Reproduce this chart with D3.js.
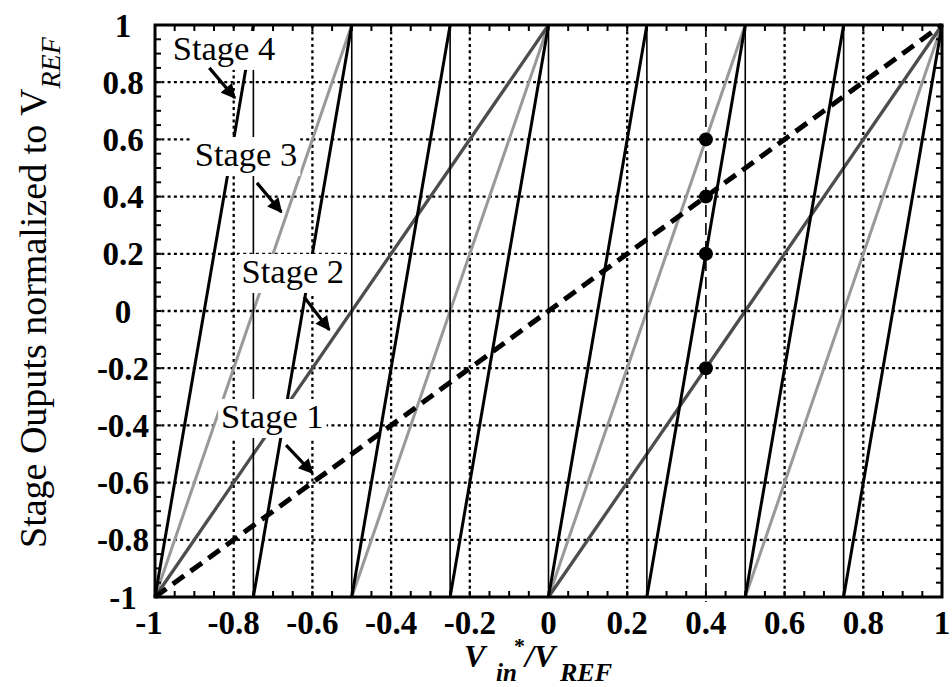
<!DOCTYPE html>
<html>
<head>
<meta charset="utf-8">
<script src="https://cdn.jsdelivr.net/npm/d3@7"></script>
<style>
  html, body { margin: 0; padding: 0; background: #fff; }
  svg { display: block; }
</style>
</head>
<body>
<script>
// ---------- data ----------
const xTickValues = [-1, -0.8, -0.6, -0.4, -0.2, 0, 0.2, 0.4, 0.6, 0.8, 1];
const xTickLabels = ["-1", "-0.8", "-0.6", "-0.4", "-0.2", "0", "0.2", "0.4", "0.6", "0.8", "1"];
const yTickValues = [1, 0.8, 0.6, 0.4, 0.2, 0, -0.2, -0.4, -0.6, -0.8, -1];
const yTickLabels = ["1", "0.8", "0.6", "0.4", "0.2", "0", "-0.2", "-0.4", "-0.6", "-0.8", "-1"];
const xGrid = [-0.8, -0.6, -0.4, -0.2, 0.2, 0.6, 0.8];
const yGrid = [-0.8, -0.6, -0.4, -0.2, 0, 0.2, 0.4, 0.6, 0.8];

// Stage 1 residue (dashed)
const stage1 = [[-1, -1], [0, 0], [1, 1]];
// Stage 2 residue segments (dark gray)
const stage2 = [
  [[-1, -1], [0, 1]],
  [[0, -1], [1, 1]]
];
// Stage 3 residue segments (light gray)
const stage3 = [
  [[-1, -1], [-0.5, 1]],
  [[-0.5, -1], [0, 1]],
  [[0, -1], [0.5, 1]],
  [[0.5, -1], [1, 1]]
];
// Stage 4 residue segments (black)
const stage4 = [
  [[-1, -1], [-0.75, 1]],
  [[-0.75, -1], [-0.5, 1]],
  [[-0.5, -1], [-0.25, 1]],
  [[-0.25, -1], [0, 1]],
  [[0, -1], [0.25, 1]],
  [[0.25, -1], [0.5, 1]],
  [[0.5, -1], [0.75, 1]],
  [[0.75, -1], [1, 1]]
];
// Vertical transitions
const jumps = [-0.75, -0.5, -0.25, 0, 0.25, 0.5, 0.75];
// Example input marker
const markerX = 0.4;
const markerY = [0.6, 0.4, 0.2, -0.2];

// Stage labels: text, anchor x,y (data), arrow start and tip (data)
const stageLabels = [
  { text: "Stage 4", x: -0.955, y: 0.878, from: [-0.862, 0.85], to: [-0.797, 0.745] },
  { text: "Stage 3", x: -0.899, y: 0.507, from: [-0.741, 0.448], to: [-0.679, 0.346] },
  { text: "Stage 2", x: -0.780, y: 0.098, from: [-0.621, 0.049], to: [-0.557, -0.066] },
  { text: "Stage 1", x: -0.832, y: -0.409, from: [-0.667, -0.469], to: [-0.600, -0.566] }
];

// ---------- layout ----------
const W = 952, H = 687;
const L = 155, R = 942, T = 25, B = 597;

const svg = d3.select("body").append("svg")
  .attr("width", W).attr("height", H)
  .attr("viewBox", `0 0 ${W} ${H}`);

const x = d3.scaleLinear().domain([-1, 1]).range([L, R]);
const y = d3.scaleLinear().domain([-1, 1]).range([B, T]);

const serif = "'Liberation Serif', 'Times New Roman', Times, serif";

// defs: arrowhead
const defs = svg.append("defs");
defs.append("marker")
  .attr("id", "ah")
  .attr("viewBox", "0 0 10 10")
  .attr("refX", 9).attr("refY", 5)
  .attr("markerWidth", 5.2).attr("markerHeight", 4.6)
  .attr("markerUnits", "strokeWidth")
  .attr("orient", "auto")
  .append("path").attr("d", "M0,0 L10,5 L0,10 z").attr("fill", "#000");

// ---------- grid ----------
const grid = svg.append("g");
grid.selectAll("line.gx").data(xGrid).enter().append("line")
  .attr("x1", d => x(d)).attr("x2", d => x(d))
  .attr("y1", T).attr("y2", B)
  .attr("stroke", "#000").attr("stroke-width", 2.3)
  .attr("stroke-dasharray", "3,3.3");
grid.selectAll("line.gy").data(yGrid).enter().append("line")
  .attr("y1", d => y(d)).attr("y2", d => y(d))
  .attr("x1", L).attr("x2", R)
  .attr("stroke", "#000").attr("stroke-width", 2.3)
  .attr("stroke-dasharray", "3,3.3");

// marker dashed vertical
svg.append("line")
  .attr("x1", x(markerX)).attr("x2", x(markerX))
  .attr("y1", T).attr("y2", B + 5)
  .attr("stroke", "#000").attr("stroke-width", 1.6)
  .attr("stroke-dasharray", "12,6");

// ---------- curves ----------
const line = d3.line().x(d => x(d[0])).y(d => y(d[1]));

svg.append("g").selectAll("path").data(stage3).enter().append("path")
  .attr("d", line).attr("fill", "none")
  .attr("stroke", "#999").attr("stroke-width", 3);

svg.append("g").selectAll("path").data(stage2).enter().append("path")
  .attr("d", line).attr("fill", "none")
  .attr("stroke", "#4d4d4d").attr("stroke-width", 3.3);

svg.append("g").selectAll("line").data(jumps).enter().append("line")
  .attr("x1", d => x(d)).attr("x2", d => x(d))
  .attr("y1", y(-1)).attr("y2", y(1))
  .attr("stroke", "#000").attr("stroke-width", 1.6);

svg.append("g").selectAll("path").data(stage4).enter().append("path")
  .attr("d", line).attr("fill", "none")
  .attr("stroke", "#000").attr("stroke-width", 3);

svg.append("path").datum(stage1)
  .attr("d", line).attr("fill", "none")
  .attr("stroke", "#000").attr("stroke-width", 5)
  .attr("stroke-dasharray", "14,8");

// dots
svg.append("g").selectAll("circle").data(markerY).enter().append("circle")
  .attr("cx", x(markerX)).attr("cy", d => y(d)).attr("r", 7)
  .attr("fill", "#000");

// ---------- stage labels ----------
const lab = svg.append("g");
stageLabels.forEach(s => {
  const g = lab.append("g");
  const rect = g.append("rect").attr("fill", "#fff");
  const t = g.append("text")
    .attr("x", x(s.x)).attr("y", y(s.y))
    .attr("font-family", serif).attr("font-size", 34.5)
    .attr("fill", "#000")
    .text(s.text);
  const bb = t.node().getBBox();
  rect.attr("x", bb.x - 3).attr("y", bb.y + 2)
    .attr("width", bb.width + 6).attr("height", bb.height + 1);
  g.append("line")
    .attr("x1", x(s.from[0])).attr("y1", y(s.from[1]))
    .attr("x2", x(s.to[0])).attr("y2", y(s.to[1]))
    .attr("stroke", "#000").attr("stroke-width", 3.2)
    .attr("marker-end", "url(#ah)");
});

// ---------- axes / frame ----------
const minor = d3.range(-1, 1.0001, 0.05);
const ax = svg.append("g");
ax.selectAll("line.tb").data(minor).enter().append("line")
  .attr("x1", d => x(d)).attr("x2", d => x(d))
  .attr("y1", B).attr("y2", B - 6)
  .attr("stroke", "#000").attr("stroke-width", 2);
ax.selectAll("line.tt").data(minor).enter().append("line")
  .attr("x1", d => x(d)).attr("x2", d => x(d))
  .attr("y1", T).attr("y2", T + 6)
  .attr("stroke", "#000").attr("stroke-width", 2);
ax.selectAll("line.tl").data(minor).enter().append("line")
  .attr("y1", d => y(d)).attr("y2", d => y(d))
  .attr("x1", L).attr("x2", L + 6)
  .attr("stroke", "#000").attr("stroke-width", 2);
ax.selectAll("line.tr").data(minor).enter().append("line")
  .attr("y1", d => y(d)).attr("y2", d => y(d))
  .attr("x1", R).attr("x2", R - 6)
  .attr("stroke", "#000").attr("stroke-width", 2);

svg.append("rect")
  .attr("x", L).attr("y", T).attr("width", R - L).attr("height", B - T)
  .attr("fill", "none").attr("stroke", "#000").attr("stroke-width", 3);

// tick labels
svg.append("g").selectAll("text").data(xTickValues).enter().append("text")
  .attr("x", d => x(d)).attr("y", 634)
  .attr("dx", (d, i) => i === 0 ? -6 : 0)
  .attr("text-anchor", "middle")
  .attr("font-family", serif).attr("font-weight", "bold").attr("font-size", 33)
  .text((d, i) => xTickLabels[i]);

svg.append("g").selectAll("text").data(yTickValues).enter().append("text")
  .attr("x", 123).attr("y", d => y(d))
  .attr("dy", "0.35em")
  .attr("text-anchor", "middle")
  .attr("font-family", serif).attr("font-weight", "bold").attr("font-size", 33)
  .text((d, i) => yTickLabels[i]);

// y axis title
const yt = svg.append("text")
  .attr("transform", "translate(46,548) rotate(-90)")
  .attr("font-family", serif).attr("font-size", 38)
  .attr("fill", "#000");
yt.append("tspan").text("Stage Ouputs normalized to V");
yt.append("tspan").attr("dy", 14).attr("font-size", 28).attr("font-style", "italic").text("REF");

// x axis title
const xt = svg.append("g").attr("font-family", serif).attr("font-weight", "bold").attr("font-style", "italic");
xt.append("text").attr("x", 464).attr("y", 667).attr("font-size", 32).text("V");
xt.append("text").attr("x", 496).attr("y", 681).attr("font-size", 25).text("in");
xt.append("text").attr("x", 514).attr("y", 653).attr("font-size", 22).attr("font-style", "normal").text("*");
xt.append("text").attr("x", 525).attr("y", 667).attr("font-size", 32).text("/V");
xt.append("text").attr("x", 560).attr("y", 681).attr("font-size", 26).text("REF");
</script>
</body>
</html>
